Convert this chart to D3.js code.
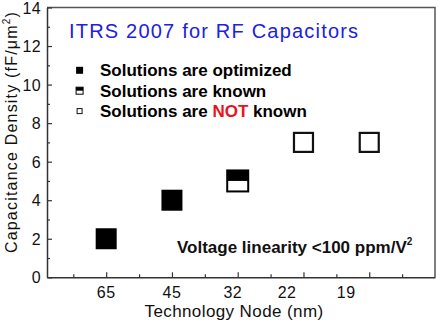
<!DOCTYPE html>
<html><head><meta charset="utf-8">
<script src="https://cdn.jsdelivr.net/npm/d3@7"></script>
<style>body{margin:0;background:#fff}svg{display:block}text{font-family:"Liberation Sans",Arial,sans-serif}</style>
</head><body><svg id="c" width="440" height="326"></svg>
<script>
const nodes = ["65", "45", "32", "22", "19"];
const nodeIndex = [2, 4, 6, 8, 10];
const labelIndex = [2, 4, 5.85, 7.5, 9.3];
const density = [2, 4, 5, 7, 7];
const status = ["optimized", "optimized", "known", "unknown", "unknown"];
const yTicks = [0, 2, 4, 6, 8, 10, 12, 14];
const legendItems = [
  {key: "optimized", parts: [["Solutions are optimized", "#000"]]},
  {key: "known", parts: [["Solutions are known", "#000"]]},
  {key: "unknown", parts: [["Solutions are ", "#000"], ["NOT", "#e8141b"], [" known", "#000"]]}
];

const svg = d3.select("#c");
const L = 47, R = 435, T = 7.5, B = 277.3;
const x = d3.scaleLinear().domain([0.2, 12]).range([L, R]);
const y = d3.scaleLinear().domain([0, 14]).range([B, T]);

// frame top/right
svg.append("path").attr("d", `M${L},${T}H${R}V${B}`).attr("fill", "none").attr("stroke", "#555").attr("stroke-width", 1.5);

// x axis
const xMinor = d3.range(1, 12);
const xa = svg.append("g").attr("transform", `translate(0,${B})`)
  .call(d3.axisBottom(x).tickValues(xMinor).tickFormat("").tickSizeInner(-3).tickSizeOuter(0));
xa.selectAll(".tick line").attr("y2", d => d % 2 === 0 ? -5 : -3);
xa.select(".domain").attr("stroke", "#333").attr("stroke-width", 1.5);
xa.selectAll(".tick line").attr("stroke", "#333").attr("stroke-width", 1.2);
svg.append("g").selectAll("text").data(nodes).join("text")
  .attr("x", (d, i) => x(labelIndex[i])).attr("y", 297.5)
  .attr("text-anchor", "middle").attr("font-size", 16).attr("letter-spacing", 0.5).attr("fill", "#111").text(d => d);

// y axis
const ya = svg.append("g").attr("transform", `translate(${L},0)`)
  .call(d3.axisLeft(y).tickValues(d3.range(0, 15, 1)).tickFormat("").tickSizeInner(-3).tickSizeOuter(0));
ya.selectAll(".tick line").attr("x2", d => d % 2 === 0 ? 5 : 3).attr("stroke", "#333").attr("stroke-width", 1.2);
ya.select(".domain").attr("stroke", "#333").attr("stroke-width", 1.5);
svg.append("g").selectAll("text").data(yTicks).join("text")
  .attr("x", 41).attr("y", d => y(d) + 6).attr("text-anchor", "end")
  .attr("font-size", 16).attr("letter-spacing", 0.3).attr("fill", "#111").text(d => d);

// axis titles
svg.append("text").attr("x", 234).attr("y", 317).attr("text-anchor", "middle")
  .attr("font-size", 17).attr("letter-spacing", 0.4).attr("fill", "#111").text("Technology Node (nm)");
const yt = svg.append("text").attr("transform", "translate(17,132) rotate(-90)").attr("text-anchor", "middle")
  .attr("font-size", 16).attr("letter-spacing", 1.2).attr("fill", "#111");
yt.append("tspan").text("Capacitance Density (fF/\u03bcm");
yt.append("tspan").attr("font-size", 10).attr("dy", -7).text("2");
yt.append("tspan").attr("dy", 7).text(")");

// title
svg.append("text").attr("x", 69).attr("y", 38).attr("font-size", 20).attr("letter-spacing", 1.2)
  .attr("fill", "#2020e0").text("ITRS 2007 for RF Capacitors");

// marker drawing
function marker(g, kind, cx, cy, s) {
  if (kind === "optimized") {
    g.append("rect").attr("x", cx - s / 2).attr("y", cy - s / 2).attr("width", s).attr("height", s).attr("fill", "#000");
  } else if (kind === "known") {
    g.append("rect").attr("x", cx - s / 2).attr("y", cy - s / 2).attr("width", s).attr("height", s)
      .attr("fill", "#fff").attr("stroke", "#000").attr("stroke-width", s > 10 ? 2 : 1);
    g.append("rect").attr("x", cx - s / 2).attr("y", cy - s / 2).attr("width", s).attr("height", s / 2).attr("fill", "#000");
  } else {
    g.append("rect").attr("x", cx - s / 2 + 1).attr("y", cy - s / 2 + 1).attr("width", s - 2).attr("height", s - 2)
      .attr("fill", "#fff").attr("stroke", "#111").attr("stroke-width", s > 10 ? 2.2 : 1);
  }
}
const pts = svg.append("g");
nodes.forEach((n, i) => marker(pts, status[i], x(nodeIndex[i]), y(density[i]), 21));

// legend
const lg = svg.append("g");
legendItems.forEach((it, i) => {
  const cy = 70.3 + i * 20.4;
  marker(lg, it.key, 79.6, cy, 7);
  const t = lg.append("text").attr("x", 100).attr("y", cy + 6).attr("font-size", 17).attr("font-weight", "bold");
  it.parts.forEach(p => t.append("tspan").attr("fill", p[1]).text(p[0]));
});

// annotation
const an = svg.append("text").attr("x", 177).attr("y", 252.5).attr("font-size", 17).attr("font-weight", "bold").attr("fill", "#111");
an.append("tspan").text("Voltage linearity <100 ppm/V");
an.append("tspan").attr("font-size", 10).attr("dy", -8).text("2");
</script></body></html>
